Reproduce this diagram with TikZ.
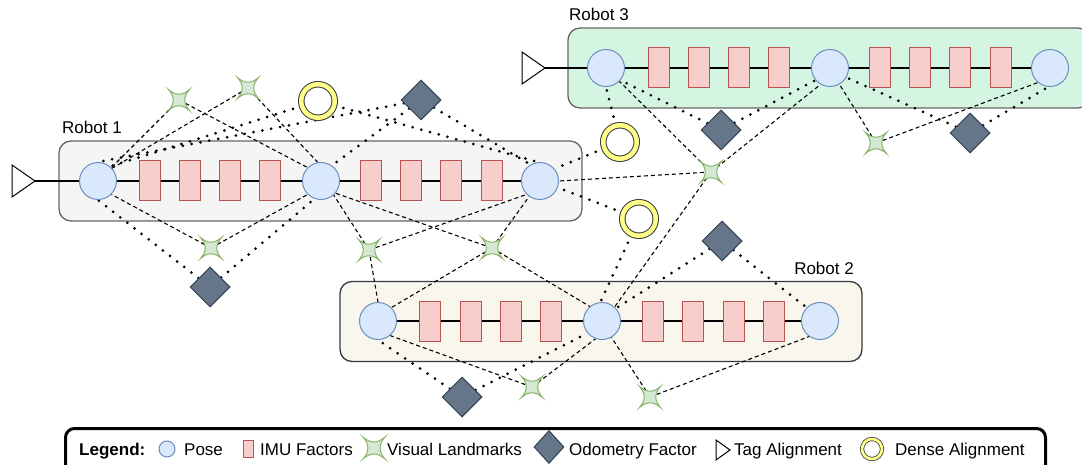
\documentclass[tikz,border=0pt]{standalone}
\usepackage{fontspec}
\setmainfont{Liberation Sans}
\usetikzlibrary{shapes.geometric}
\definecolor{posefill}{HTML}{DAE8FC}
\definecolor{posedraw}{HTML}{6C8EBF}
\definecolor{imufill}{HTML}{F8CECC}
\definecolor{imudraw}{HTML}{B85450}
\definecolor{lmfill}{HTML}{D5E8D4}
\definecolor{lmdraw}{HTML}{82B366}
\definecolor{odofill}{HTML}{647687}
\definecolor{ododraw}{HTML}{314354}
\definecolor{ringfill}{HTML}{FFFF88}
\definecolor{ringdraw}{HTML}{36393D}
\definecolor{gOnefill}{HTML}{F5F5F5}
\definecolor{gOnedraw}{HTML}{666666}
\definecolor{gTwofill}{HTML}{F9F7ED}
\definecolor{gTwodraw}{HTML}{36393D}
\definecolor{gThreefill}{HTML}{D5F5E3}
\definecolor{gThreedraw}{HTML}{666666}
\pgfdeclarelayer{bg}
\pgfdeclarelayer{mid}
\pgfsetlayers{bg,mid,main}
\tikzset{
  txt/.style={font=\fontsize{17}{20}\selectfont, inner sep=0pt},
  grp/.style={rectangle, rounded corners=12pt, minimum height=80pt, line width=1.3pt, inner sep=0pt},
  pose/.style={circle, draw=posedraw, fill=posefill, line width=1pt, minimum size=37pt, inner sep=0pt},
  imu/.style={rectangle, draw=imudraw, fill=imufill, line width=1pt, minimum width=21pt, minimum height=40pt, inner sep=0pt},
  lm/.style={circle, minimum size=14pt, inner sep=0pt},
  odo/.style={diamond, draw=ododraw, fill=odofill, line width=1pt, minimum width=40pt, minimum height=40pt, inner sep=0pt},
  ring/.style={circle, draw=ringdraw, fill=white, line width=1pt, double=ringfill, double distance=4.5pt, minimum size=33.5pt, inner sep=0pt},
  tagtri/.style={draw=black, fill=white, line width=1pt},
  chain/.style={draw=black, line width=1.2pt},
  obs/.style={draw=black, line width=1.1pt, dash pattern=on 4pt off 3pt},
  fac/.style={draw=black, line width=3pt, line cap=round, dash pattern=on 0pt off 9pt},
  legbox/.style={rectangle, draw=black, fill=white, line width=3pt, rounded corners=9pt, inner sep=0pt},
  pics/lmstar/.style={code={
    \draw[draw=lmdraw, fill=lmfill, line width=1pt]
      (-10.5,-10.5) .. controls (-3.5,-4.2) and (3.5,-4.2) .. (10.5,-10.5)
      .. controls (4.2,-3.5) and (4.2,3.5) .. (10.5,10.5)
      .. controls (3.5,4.2) and (-3.5,4.2) .. (-10.5,10.5)
      .. controls (-4.2,3.5) and (-4.2,-3.5) .. (-10.5,-10.5) -- cycle;
  }}
}
\begin{document}
\begin{tikzpicture}[x=1pt,y=-1pt]
\path[use as bounding box] (0,0) rectangle (1082,465);

% ---------- robot groups ----------
\begin{pgfonlayer}{bg}
\begin{scope}
\clip (0,0) rectangle (1082,465);
\node[grp, fill=gOnefill, draw=gOnedraw, minimum width=523pt] (g1) at (320.5,181) {};
\node[grp, fill=gTwofill, draw=gTwodraw, minimum width=522pt] (g2) at (601,321.5) {};
\node[grp, fill=gThreefill, draw=gThreedraw, minimum width=522pt] (g3) at (829,68) {};
\end{scope}
\end{pgfonlayer}

\node[txt, anchor=base west] (g1lab) at (62,134) {Robot 1};
\node[txt, anchor=base east] (g2lab) at (854,275) {Robot 2};
\node[txt, anchor=base west] (g3lab) at (569,21) {Robot 3};

% ---------- tag alignments ----------
\coordinate (t1) at (35,181);
\coordinate (t3) at (545,68);
\draw[tagtri] (t1) -- ++(-23,-16) -- ++(0,32) -- cycle;
\draw[tagtri] (t3) -- ++(-23,-16) -- ++(0,32) -- cycle;

% ---------- poses ----------
\node[pose] (p11) at (98,181) {};
\node[pose] (p12) at (321,181) {};
\node[pose] (p13) at (540,181) {};
\node[pose] (p21) at (378,321) {};
\node[pose] (p22) at (602,321) {};
\node[pose] (p23) at (820,321) {};
\node[pose] (p31) at (606,68) {};
\node[pose] (p32) at (830,68) {};
\node[pose] (p33) at (1050,68) {};

% ---------- IMU factors ----------
\node[imu] (i11) at (150,181) {};
\node[imu] (i12) at (190,181) {};
\node[imu] (i13) at (230,181) {};
\node[imu] (i14) at (270,181) {};
\node[imu] (i15) at (371,181) {};
\node[imu] (i16) at (411,181) {};
\node[imu] (i17) at (451,181) {};
\node[imu] (i18) at (492,181) {};
\node[imu] (i21) at (430,321) {};
\node[imu] (i22) at (471,321) {};
\node[imu] (i23) at (511,321) {};
\node[imu] (i24) at (551,321) {};
\node[imu] (i25) at (653,321) {};
\node[imu] (i26) at (693,321) {};
\node[imu] (i27) at (734,321) {};
\node[imu] (i28) at (774,321) {};
\node[imu] (i31) at (659,68) {};
\node[imu] (i32) at (699,68) {};
\node[imu] (i33) at (739,68) {};
\node[imu] (i34) at (779,68) {};
\node[imu] (i35) at (880,68) {};
\node[imu] (i36) at (920,68) {};
\node[imu] (i37) at (960,68) {};
\node[imu] (i38) at (1001,68) {};

% ---------- odometry factors ----------
\node[odo] (d1) at (421,100) {};
\node[odo] (d2) at (210,287) {};
\node[odo] (d3) at (721,130) {};
\node[odo] (d4) at (970,133) {};
\node[odo] (d5) at (722,241) {};
\node[odo] (d6) at (462,397) {};

% ---------- dense alignments ----------
\node[ring] (a1) at (318,101) {};
\node[ring] (a2) at (620,142) {};
\node[ring] (a3) at (639,219) {};

% ---------- visual landmarks ----------
\node[lm] (l1) at (179,100) {};
\node[lm] (l2) at (248,88) {};
\node[lm] (l3) at (211,248) {};
\node[lm] (l4) at (369,250) {};
\node[lm] (l5) at (492,248) {};
\node[lm] (l6) at (711,172) {};
\node[lm] (l7) at (876,143) {};
\node[lm] (l8) at (532,387) {};
\node[lm] (l9) at (650,397) {};
\foreach \n in {l1,l2,l3,l4,l5,l6,l7,l8,l9} {\pic at (\n) {lmstar};}

% ---------- connectors ----------
\begin{pgfonlayer}{mid}
\draw[chain] (t1) -- (p11) -- (i11) -- (i12) -- (i13) -- (i14) -- (p12) -- (i15) -- (i16) -- (i17) -- (i18) -- (p13);
\draw[chain] (p21) -- (i21) -- (i22) -- (i23) -- (i24) -- (p22) -- (i25) -- (i26) -- (i27) -- (i28) -- (p23);
\draw[chain] (t3) -- (p31) -- (i31) -- (i32) -- (i33) -- (i34) -- (p32) -- (i35) -- (i36) -- (i37) -- (i38) -- (p33);

% landmark observations
\draw[obs] (l1) -- (p11.45);
\draw[obs] (l1) -- (p12.135);
\draw[obs] (l2) -- (p11.42);
\draw[obs] (l2) -- (p12.100);
\draw[obs] (l3) -- (p11.-45);
\draw[obs] (l3) -- (p12.-135);
\draw[obs] (l4) -- (p12.-48);
\draw[obs] (l4) -- (p13.-135);
\draw[obs] (l4) -- (p21.90);
\draw[obs] (l5) -- (p12.-40);
\draw[obs] (l5) -- (p13.-125);
\draw[obs] (l5) -- (p21.45);
\draw[obs] (l5) -- (p22.130);
\draw[obs] (l6) -- (p13.0);
\draw[obs] (l6) -- (p31.-45);
\draw[obs] (l6) -- (p32.-120);
\draw[obs] (l6) -- (p22.48);
\draw[obs] (l7) -- (p32.-60);
\draw[obs] (l7) -- (p33.-130);
\draw[obs] (l8) -- (p21.-50);
\draw[obs] (l8) -- (p22.-110);
\draw[obs] (l9) -- (p22.-60);
\draw[obs] (l9) -- (p23.-125);

% odometry and alignment factors
\draw[fac] (d2) -- (p11.-90);
\draw[fac] (d2) -- (p12.-110);
\draw[fac] (d1) -- (p11.90);
\draw[fac] (d1) -- (p12.55);
\draw[fac] (d1) -- (p13.120);
\draw[fac] (a1) -- (p11.50);
\draw[fac] (a1) -- (p13.95);
\draw[fac] (a2) -- (p13.40);
\draw[fac] (a2) -- (p31.-90);
\draw[fac] (a3) -- (p13.-20);
\draw[fac] (a3) -- (p22.95);
\draw[fac] (d3) -- (p31.-40);
\draw[fac] (d3) -- (p32.-140);
\draw[fac] (d4) -- (p32.-30);
\draw[fac] (d4) -- (p33.-95);
\draw[fac] (d5) -- (p22.42);
\draw[fac] (d5) -- (p23.135);
\draw[fac] (d6) -- (p21.-90);
\draw[fac] (d6) -- (p22.-140);
\end{pgfonlayer}

% ---------- legend ----------
\begin{scope}
\clip (0,0) rectangle (1082,465);
\node[legbox, minimum width=980pt, minimum height=52pt] (leg) at (555.5,454.5) {};
\end{scope}
\node[txt, anchor=base west, font=\fontsize{17}{20}\selectfont\bfseries] (legt) at (79,455) {Legend:};
\node[pose, minimum size=16pt] (lgpose) at (167,449) {};
\node[txt, anchor=base west] (lgposet) at (184,455) {Pose};
\node[imu, minimum width=10pt, minimum height=17pt] (lgimu) at (248,449) {};
\node[txt, anchor=base west] (lgimut) at (260,455) {IMU Factors};
\node[lm] (lglm) at (374,448) {};
\pic[scale=1.05] at (lglm) {lmstar};
\node[txt, anchor=base west] (lglmt) at (387,455) {Visual Landmarks};
\node[odo, minimum width=30pt, minimum height=33pt] (lgodo) at (549,447) {};
\node[txt, anchor=base west] (lgodot) at (569,455) {Odometry Factor};
\coordinate (lgtag) at (730,450);
\draw[tagtri] (lgtag) -- ++(-14,-10) -- ++(0,20) -- cycle;
\node[txt, anchor=base west] (lgtagt) at (734,455) {Tag Alignment};
\node[ring, minimum size=20pt, double distance=2.6pt, line width=0.8pt] (lgring) at (872,449) {};
\node[txt, anchor=base west] (lgringt) at (895,455) {Dense Alignment};
\end{tikzpicture}
\end{document}
